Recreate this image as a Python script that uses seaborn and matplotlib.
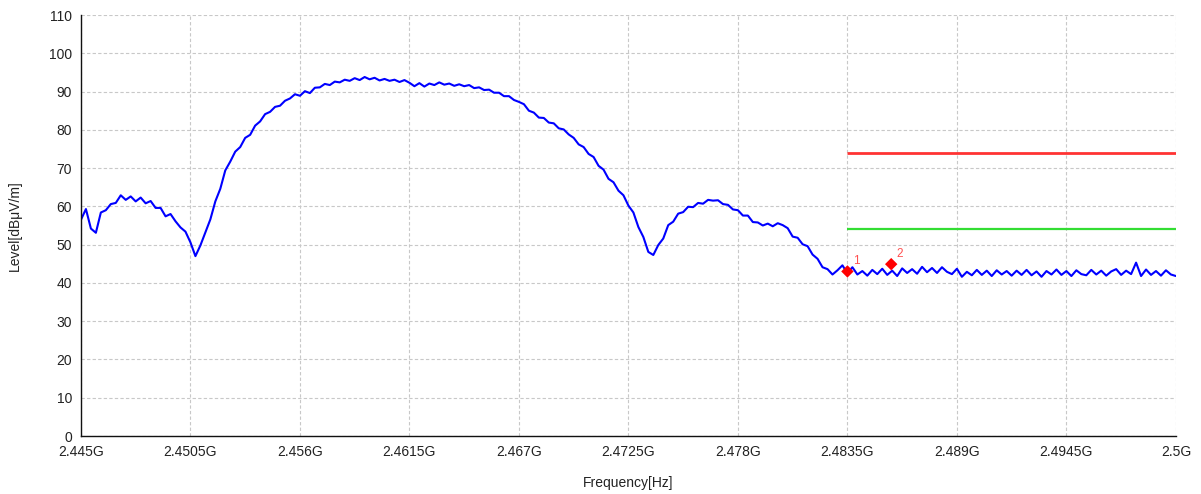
import numpy as np
import matplotlib
matplotlib.use("Agg")
import matplotlib.pyplot as plt
from matplotlib.ticker import FuncFormatter
import seaborn as sns

# sweep range (Hz)
freq_start = 2.445e9
freq_stop = 2.5e9

# measured level [dBuV/m], one reading every 0.25 MHz
level = [
    56.5, 59.3, 54.2, 53.1, 58.4, 59.0, 60.6, 60.9,
    62.9, 61.7, 62.6, 61.3, 62.3, 60.8, 61.4, 59.6,
    59.6, 57.4, 58.0, 56.1, 54.5, 53.4, 50.6, 47.0,
    49.8, 53.2, 56.6, 61.3, 64.6, 69.4, 71.7, 74.3,
    75.5, 77.9, 78.7, 81.1, 82.2, 84.1, 84.7, 86.0,
    86.3, 87.6, 88.2, 89.3, 88.9, 90.1, 89.6, 91.0,
    91.1, 92.0, 91.7, 92.6, 92.4, 93.1, 92.8, 93.5,
    93.0, 93.8, 93.2, 93.6, 92.9, 93.3, 92.8, 93.1,
    92.5, 93.0, 92.3, 91.4, 92.2, 91.3, 92.1, 91.7,
    92.4, 91.8, 92.1, 91.5, 91.9, 91.4, 91.7, 90.9,
    91.1, 90.4, 90.5, 89.7, 89.7, 88.8, 88.8, 87.8,
    87.3, 86.7, 85.0, 84.5, 83.2, 83.1, 81.9, 81.7,
    80.4, 80.1, 78.8, 77.9, 76.2, 75.5, 73.7, 72.9,
    70.6, 69.6, 67.2, 66.3, 64.1, 62.9, 60.2, 58.4,
    54.6, 52.0, 48.1, 47.3, 49.9, 51.6, 55.1, 56.0,
    58.1, 58.5, 59.9, 59.8, 60.9, 60.7, 61.7, 61.5,
    61.6, 60.6, 60.4, 59.2, 59.0, 57.6, 57.6, 55.9,
    55.8, 55.0, 55.5, 54.8, 55.6, 55.1, 54.3, 52.1,
    51.8, 50.1, 49.6, 47.4, 46.3, 44.1, 43.6, 42.2,
    43.3, 44.6, 42.5, 44.1, 42.2,
    43.1, 41.9, 43.4, 42.3, 43.7, 42.1, 43.2, 41.8, 43.8, 42.6,
    43.6, 42.4, 44.2, 42.8, 43.9, 42.6, 44.1, 42.9, 42.3, 43.7,
    41.6, 42.9, 42.0, 43.4, 42.1, 43.2, 41.8, 43.3, 42.2, 43.1,
    41.9, 43.2, 42.1, 43.4, 42.0, 43.0, 41.6, 43.1, 42.2, 43.5,
    42.1, 43.1, 41.8, 43.3, 42.3, 42.0, 43.4, 42.2, 43.2, 41.9,
    43.0, 43.6, 42.1, 43.2, 42.3, 45.3, 41.8, 43.5, 42.1, 43.1,
    41.9, 43.3, 42.2, 41.8,
]
freq = np.linspace(freq_start, freq_stop, len(level))

# limit lines
limit_start = 2.4835e9
peak_limit = 74
avg_limit = 54

# markers
marker_freq = [2.4835e9, 2.4857e9]
marker_level = [43.0, 44.9]
marker_names = ["1", "2"]

x_ticks = [2.445e9, 2.4505e9, 2.456e9, 2.4615e9, 2.467e9, 2.4725e9,
           2.478e9, 2.4835e9, 2.489e9, 2.4945e9, 2.5e9]
y_ticks = list(range(0, 111, 10))

sns.set_style("whitegrid", {"grid.linestyle": (0, (3, 2)), "grid.color": "#c8c8c8"})
plt.rcParams["font.family"] = ["Liberation Sans", "DejaVu Sans"]

fig = plt.figure(figsize=(12.01, 4.94), dpi=100)
ax = fig.add_axes([0.0674, 0.1174, 0.9117, 0.8522])

sns.lineplot(x=freq, y=level, ax=ax, color="#0000ff", linewidth=1.5)

ax.hlines(peak_limit, limit_start, freq_stop, color="#ff3333", linewidth=2)
ax.hlines(avg_limit, limit_start, freq_stop, color="#33dd33", linewidth=1.6)

sns.scatterplot(x=marker_freq, y=marker_level, ax=ax, marker="D", s=40,
                color="#ff0000", edgecolor="none", zorder=5)
for f, l, n in zip(marker_freq, marker_level, marker_names):
    ax.annotate(n, (f, l), xytext=(4, 5), textcoords="offset points",
                color="#ff5050", fontsize=8.5)

ax.set_xlim(freq_start, freq_stop)
ax.set_ylim(0, 110)
ax.set_xticks(x_ticks)
ax.set_yticks(y_ticks)
ax.xaxis.set_major_formatter(FuncFormatter(lambda v, p: f"{v / 1e9:g}G"))
ax.grid(True, linewidth=0.8)

ax.tick_params(direction="inout", length=9, width=1, color="#555555",
               labelsize=10, labelcolor="#222222", pad=2)
for side in ["top", "right"]:
    ax.spines[side].set_visible(False)
for side in ["left", "bottom"]:
    ax.spines[side].set_color("#111111")
    ax.spines[side].set_linewidth(1)

ax.set_xlabel("Frequency[Hz]", fontsize=10, color="#222222")
ax.set_ylabel("Level[dBμV/m]", fontsize=10, color="#222222")
ax.xaxis.set_label_coords(0.5, -0.095)
ax.yaxis.set_label_coords(-0.054, 0.5)

fig.savefig("out.png", dpi=100)
